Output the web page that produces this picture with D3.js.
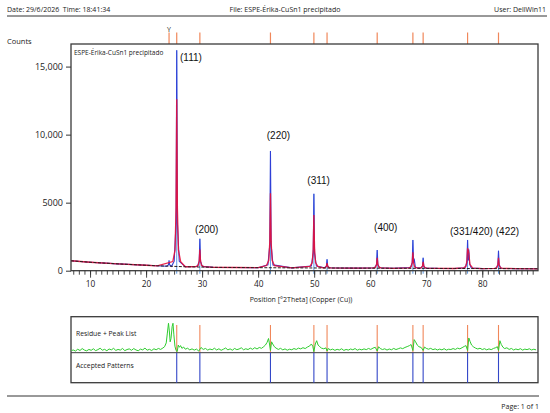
<!DOCTYPE html>
<html><head><meta charset="utf-8">
<script src="https://cdn.jsdelivr.net/npm/d3@7"></script>
<style>
body{margin:0;background:#fff}
svg{display:block}
text{font-family:"Open Sans",sans-serif;fill:#1a1a1a;white-space:pre}
text.hkl{font-family:"Liberation Sans",Arial,sans-serif;fill:#111}
</style>
</head><body>
<svg id="c" width="550" height="413"></svg>
<script>
// ---------------- DATA ----------------
const headerDate = "Date: 29/6/2026  Time: 18:41:34";
const headerFile = "File: ESPE-Érika-CuSn1 precipitado";
const headerUser = "User: DellWin11";
const sampleName = "ESPE-Érika-CuSn1 precipitado";
const xTitle = "Position [°2Theta] (Copper (Cu))";
const yTitle = "Counts";
const pageText = "Page: 1 of 1";

const xTicks = [10, 20, 30, 40, 50, 60, 70, 80];
const yTicks = [0, 5000, 10000, 15000];

// peak list (top strip), first one marked "Y"
const peakPos = [24.1, 25.47, 29.6, 42.2, 49.95, 52.3, 61.25, 67.62, 69.45, 77.38, 82.9];
const peakMark = ["Y", "", "", "", "", "", "", "", "", "", ""];
// accepted reference pattern lines
const acceptedPos = [25.47, 29.6, 42.2, 49.95, 52.3, 61.25, 67.62, 69.45, 77.38, 82.9];
const acceptedTop = [16200, 2350, 8800, 5650, 840, 1520, 2260, 955, 2260, 1470];

// background (counts)
const background = [[6.6,730],[10,620],[15,500],[20,400],[22,360],[27,290],[32,250],[36,235],[40,222],[46,207],[56,192],[58,188],[64,178],[72,168],[75,163],[80,156],[86,150],[89.95,140]];

// observed profile points around peaks (counts)
const observedPeaks = [
 [23.65,330],[23.98,420],[24.1,770],[24.22,420],[24.55,322],
 [25.02,700],[25.35,3500],[25.47,16200],[25.59,3500],[25.92,690],
 [29.15,320],[29.48,680],[29.6,2350],[29.72,680],[30.05,315],
 [41.75,430],[42.08,1930],[42.2,8800],[42.32,1930],[42.65,425],
 [49.5,340],[49.83,1290],[49.95,5650],[50.07,1290],[50.4,335],
 [51.85,215],[52.18,330],[52.3,840],[52.42,330],[52.75,212],
 [60.8,220],[61.13,450],[61.25,1520],[61.37,450],[61.7,218],
 [67.17,230],[67.5,590],[67.62,2260],[67.74,590],[67.85,900],[68.07,228],
 [69.0,195],[69.33,330],[69.45,955],[69.57,330],[69.9,192],
 [76.93,215],[77.26,580],[77.38,2260],[77.5,760],[77.6,1550],[77.75,480],[78.05,200],
 [82.45,185],[82.78,415],[82.9,1470],[83.02,415],[83.35,182]
];

// calculated profile points around peaks (counts)
const calculatedPeaks = [
 [24.77,670],[25.17,1530],[25.35,4600],[25.47,12600],[25.59,4600],[25.77,1530],[26.17,670],
 [28.9,305],[29.3,395],[29.48,715],[29.6,1550],[29.72,715],[29.9,395],[30.3,303],
 [41.5,380],[41.9,765],[42.08,2135],[42.2,5700],[42.32,2135],[42.5,765],[42.9,378],
 [49.25,317],[49.65,590],[49.83,1565],[49.95,4100],[50.07,1565],[50.25,590],[50.65,315],
 [51.6,208],[52.0,233],[52.18,325],[52.3,560],[52.42,325],[52.6,233],[53.0,206],
 [60.55,206],[60.95,260],[61.13,450],[61.25,950],[61.37,450],[61.55,260],[61.95,205],
 [66.92,210],[67.32,293],[67.5,585],[67.62,1350],[67.74,585],[67.92,293],[68.32,208],
 [68.75,186],[69.15,220],[69.33,340],[69.45,650],[69.57,340],[69.75,220],[70.15,185],
 [76.68,206],[77.08,315],[77.26,700],[77.38,1650],[77.5,1500],[77.6,1300],[77.8,470],[78.3,195],
 [82.2,176],[82.6,232],[82.78,430],[82.9,950],[83.02,430],[83.2,232],[83.6,175]
];

// residue (arbitrary units above the divider)
const residue = [[6.7,2],[7,2.5],[7.4,1.5],[7.8,3.2],[8.2,2],[8.6,3.8],[9,2.4],[9.4,1.7],[9.8,3],[10.2,2.2],[10.6,3.6],[11,1.9],[11.4,2.8],[11.8,4.1],[12.2,2.3],[12.6,3.1],[13,1.8],[13.4,3.4],[13.8,2.6],[14.2,4],[14.6,2.1],[15,3],[15.4,2.4],[15.8,3.9],[16.2,1.9],[16.6,2.9],[17,3.5],[17.4,2.2],[17.8,3.8],[18.2,2.5],[18.6,1.8],[19,3.3],[19.4,2.6],[19.8,4.2],[20.2,2.3],[20.6,3.1],[21,2],[21.4,3.6],[21.8,2.7],[22.2,3.9],[22.6,3],[23,4.3],[23.3,5.5],[23.6,9],[23.8,18],[24.0,27],[24.15,20],[24.3,10],[24.45,13],[24.65,24],[24.8,27],[24.95,17],[25.15,6],[25.35,2],[25.55,1],[25.75,7],[25.95,5],[26.15,6.5],[26.4,4],[26.7,5.2],[27,3.2],[27.4,4.1],[27.8,2.6],[28.2,3.5],[28.6,2.4],[29,3.3],[29.4,1.5],[29.8,4.8],[30.2,3],[30.6,3.9],[31,2.4],[31.4,3.4],[31.8,2.7],[32.2,4.1],[32.6,2.5],[33,3.6],[33.4,2.2],[33.8,3.2],[34.2,4.3],[34.6,2.6],[35,3.5],[35.4,2.3],[35.8,3.9],[36.2,2.8],[36.6,3.4],[37,4.5],[37.4,2.7],[37.8,3.6],[38.2,2.9],[38.6,4.2],[39,3.1],[39.4,4.6],[39.8,3.4],[40.2,4.8],[40.6,4],[41,5.6],[41.3,7],[41.6,9.5],[41.85,13],[42.0,9],[42.2,2],[42.4,10],[42.6,8],[42.9,5.5],[43.2,4.2],[43.6,3],[44,4],[44.4,2.6],[44.8,3.5],[45.2,2.3],[45.6,3.2],[46,2.7],[46.4,3.8],[46.8,3],[47.2,4.2],[47.6,3.5],[48,4.6],[48.4,3.8],[48.8,5.2],[49.2,6.2],[49.5,8],[49.75,6],[49.95,1],[50.2,8],[50.45,11],[50.7,7],[51,5.5],[51.3,4.2],[51.7,3.6],[52.1,4.4],[52.3,1.5],[52.5,3.8],[52.9,2.6],[53.3,3.3],[53.7,2.2],[54.1,3.1],[54.5,2.5],[54.9,3.6],[55.3,2.1],[55.7,3],[56.1,2.4],[56.5,3.4],[56.9,2.7],[57.3,3.8],[57.7,2.3],[58.1,3.2],[58.5,2.6],[58.9,3.5],[59.3,2.8],[59.7,3.9],[60.1,3],[60.5,4.2],[60.9,5],[61.25,1.5],[61.5,5.5],[61.8,3.8],[62.2,2.9],[62.6,3.6],[63,2.4],[63.4,3.4],[63.8,2.7],[64.2,3.9],[64.6,2.9],[65,3.6],[65.4,4.4],[65.8,3.7],[66.2,4.8],[66.6,5.6],[67,6.5],[67.3,7.5],[67.62,2],[67.85,12],[68.1,10],[68.4,7],[68.7,5.5],[69.1,4.8],[69.45,2],[69.7,5.2],[70,4],[70.4,3.2],[70.8,4],[71.2,2.8],[71.6,3.5],[72,2.5],[72.4,3.3],[72.8,2.6],[73.2,3.7],[73.6,2.4],[74,3.2],[74.4,2.9],[74.8,3.8],[75.2,3],[75.6,4.2],[76,3.5],[76.4,4.6],[76.8,5.8],[77.1,6.5],[77.38,2],[77.6,13.5],[77.85,10],[78.1,7],[78.4,5.5],[78.8,4.2],[79.2,3.4],[79.6,4.1],[80,2.9],[80.4,3.7],[80.8,2.6],[81.2,3.5],[81.6,2.8],[82,3.9],[82.4,4.6],[82.7,5.5],[82.9,2],[83.15,11],[83.4,7.5],[83.7,5],[84,3.8],[84.4,4.5],[84.8,3],[85.2,3.9],[85.6,2.5],[86,3.4],[86.4,2.7],[86.8,3.7],[87.2,2.4],[87.6,3.3],[88,2.8],[88.4,3.6],[88.8,2.5],[89.2,3.2],[89.6,2.6]];

// hkl annotations (anchor in data units)
const hklText  = ["(111)", "(200)", "(220)", "(311)", "(400)", "(331/420)", "(422)"];
const hklAngle = [26.06, 28.74, 41.54, 48.78, 60.69, 74.25, 82.41];
const hklCount = [15410, 2770, 9680, 6375, 2920, 2625, 2625];

// ---------------- DRAW ----------------
const svg = d3.select("#c");
const x = d3.scaleLinear().domain([6.6, 89.95]).range([71, 538]);
const y = d3.scaleLinear().domain([0, 16660]).range([270.7, 44]);
const yr = d3.scaleLinear().domain([0, 30]).range([352.7, 320]);

// header
svg.append("text").attr("x", 7).attr("y", 12).attr("font-size", 7).text(headerDate);
svg.append("text").attr("x", 285).attr("y", 12).attr("font-size", 7).attr("text-anchor", "middle").text(headerFile);
svg.append("text").attr("x", 546).attr("y", 12).attr("font-size", 7).attr("text-anchor", "end").text(headerUser);
svg.append("line").attr("x1", 7).attr("x2", 547).attr("y1", 16).attr("y2", 16).attr("stroke", "#333").attr("stroke-width", 1);

svg.append("text").attr("x", 7).attr("y", 43.5).attr("font-size", 7.5).text(yTitle);

// top strip peak ticks
svg.append("g").selectAll("line").data(peakPos).join("line")
  .attr("x1", d => x(d)).attr("x2", d => x(d)).attr("y1", 32.5).attr("y2", 44)
  .attr("stroke", "#f0875a").attr("stroke-width", 1.2);
svg.append("g").selectAll("text").data(peakPos.map((p, i) => [p, peakMark[i]]).filter(d => d[1])).join("text")
  .attr("x", d => x(d[0])).attr("y", 31.5).attr("font-size", 7).attr("text-anchor", "middle").text(d => d[1]);

// clip
svg.append("clipPath").attr("id", "clip").append("rect").attr("x", 71).attr("y", 44).attr("width", 467).attr("height", 226.7);

const byAngle = (a, b) => a[0] - b[0];
const obs = background.concat(observedPeaks).sort(byAngle);
const calc = background.concat(calculatedPeaks).sort(byAngle);
const line = d3.line().x(d => x(d[0])).y(d => y(d[1]));

const plot = svg.append("g").attr("clip-path", "url(#clip)");
// reference sticks (light blue)
plot.append("g").selectAll("line").data(acceptedPos).join("line")
  .attr("x1", d => x(d)).attr("x2", d => x(d)).attr("y1", y(0)).attr("y2", (d, i) => y(acceptedTop[i]))
  .attr("stroke", "#5b9be6").attr("stroke-width", 1);
plot.append("path").datum(obs).attr("d", line).attr("fill", "none").attr("stroke", "#2f3fd6").attr("stroke-width", 1.1);
plot.append("path").datum(calc).attr("d", line).attr("fill", "none").attr("stroke", "#e8103a").attr("stroke-width", 1.3).attr("stroke-opacity", 0.9);
plot.append("path").datum(background).attr("d", line).attr("fill", "none").attr("stroke", "#2a1d1d").attr("stroke-width", 1).attr("stroke-dasharray", "3,1.5");
// stick parts below the box bottom
svg.append("g").selectAll("line").data(acceptedPos).join("line")
  .attr("x1", d => x(d)).attr("x2", d => x(d)).attr("y1", y(0)).attr("y2", y(0) + 3)
  .attr("stroke", "#5b9be6").attr("stroke-width", 1);

// hkl labels
svg.append("g").selectAll("text").data(hklText).join("text")
  .attr("class", "hkl")
  .attr("x", (d, i) => x(hklAngle[i])).attr("y", (d, i) => y(hklCount[i]))
  .attr("font-size", 10).text(d => d);

// sample name
svg.append("text").attr("x", 74).attr("y", 55).attr("font-size", 6.5).text(sampleName);

// box
svg.append("rect").attr("x", 71).attr("y", 44).attr("width", 467).attr("height", 226.7)
  .attr("fill", "none").attr("stroke", "#3a3a3a").attr("stroke-width", 1.3);

// x axis
const xMinor = svg.append("g").attr("transform", `translate(0,${y(0)})`)
  .call(d3.axisBottom(x).tickValues(d3.range(7, 90)).tickSize(4).tickFormat(""));
const xMajor = svg.append("g").attr("transform", `translate(0,${y(0)})`)
  .call(d3.axisBottom(x).tickValues(xTicks).tickSize(7).tickPadding(3));
[xMinor, xMajor].forEach(g => {
  g.select(".domain").remove();
  g.selectAll("line").attr("stroke", "#333").attr("stroke-width", 0.9);
});
xMajor.selectAll("text").attr("font-size", 8.3);

svg.append("text").attr("x", 301).attr("y", 302).attr("font-size", 7).attr("text-anchor", "middle").text(xTitle);

// y axis
const yAx = svg.append("g").attr("transform", "translate(71,0)")
  .call(d3.axisLeft(y).tickValues(yTicks).tickSize(5).tickPadding(3)
    .tickFormat(d => d >= 10000 ? d3.format(",")(d) : String(d)));
yAx.select(".domain").remove();
yAx.selectAll("line").attr("stroke", "#333");
yAx.selectAll("text").attr("font-size", 9);

// residue + accepted panel
svg.append("rect").attr("x", 71).attr("y", 316.7).attr("width", 467).attr("height", 66)
  .attr("fill", "none").attr("stroke", "#3a3a3a").attr("stroke-width", 1.3);
svg.append("text").attr("x", 76).attr("y", 336).attr("font-size", 6.8).text("Residue + Peak List");
svg.append("text").attr("x", 76).attr("y", 368).attr("font-size", 6.8).text("Accepted Patterns");

svg.append("g").selectAll("line").data(acceptedPos).join("line")
  .attr("x1", d => x(d)).attr("x2", d => x(d)).attr("y1", 325).attr("y2", yr(0))
  .attr("stroke", "#f0875a").attr("stroke-width", 1.1);
svg.append("path").datum(residue)
  .attr("d", d3.line().x(d => x(d[0])).y(d => yr(d[1])))
  .attr("fill", "none").attr("stroke", "#2ecc2e").attr("stroke-width", 1);
svg.append("line").attr("x1", 71).attr("x2", 538).attr("y1", yr(0)).attr("y2", yr(0)).attr("stroke", "#3a3a3a").attr("stroke-width", 1);
svg.append("g").selectAll("line").data(acceptedPos).join("line")
  .attr("x1", d => x(d)).attr("x2", d => x(d)).attr("y1", yr(0)).attr("y2", 382.7)
  .attr("stroke", "#3347c8").attr("stroke-width", 1.1);

// footer
svg.append("line").attr("x1", 7).attr("x2", 539).attr("y1", 396).attr("y2", 396).attr("stroke", "#333").attr("stroke-width", 1);
svg.append("text").attr("x", 539).attr("y", 408.5).attr("font-size", 7).attr("text-anchor", "end").text(pageText);
</script>
</body></html>
